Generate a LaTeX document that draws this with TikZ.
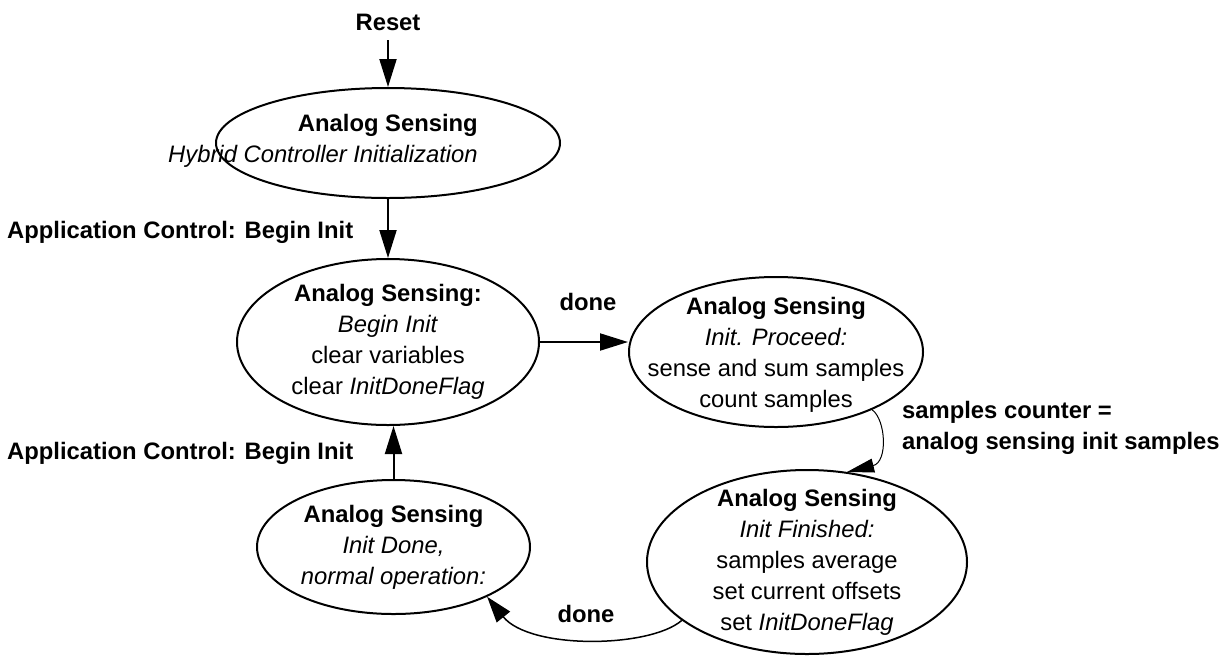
\documentclass[tikz,border=0pt]{standalone}
\usepackage{fontspec}
\setmainfont{Liberation Sans}
\usetikzlibrary{shapes.geometric,arrows.meta}
\begin{document}
\begin{tikzpicture}[x=1pt,y=-1pt,
  txt/.style={font=\fontsize{23.8}{31}\selectfont, align=center, inner sep=0pt},
  lbl/.style={font=\fontsize{23.8}{31}\selectfont\bfseries, inner sep=0pt},
  state/.style={ellipse, draw, line width=2pt, inner sep=0pt},
  arr/.style={line width=2pt, -{Triangle[length=28pt,width=17pt]}},
  thinarr/.style={line width=1pt, -{Triangle[length=27pt,width=14pt]}}]
\useasboundingbox (0,0) rectangle (1230,662);

% states (outlines)
\node[state, minimum width=344pt, minimum height=110pt] (s0) at (388,143) {};
\node[state, minimum width=302pt, minimum height=166pt] (s1) at (388,342) {};
\node[state, minimum width=294pt, minimum height=150pt] (s2) at (776,352) {};
\node[state, minimum width=320pt, minimum height=184pt] (s3) at (807,562) {};
\node[state, minimum width=273pt, minimum height=134pt] (s4) at (393.5,547) {};

% state texts
\node[txt, align=right] (s0t) at (323,141)
  {{\bfseries Analog Sensing}\\\textit{Hybrid Controller Initialization}};
\node[txt] (s1t) at (s1)
  {{\bfseries Analog Sensing:}\\\textit{Begin Init}\\clear variables\\clear \textit{InitDoneFlag}};
\node[txt] (s2t) at (776,355)
  {{\bfseries Analog Sensing}\\\textit{Init. Proceed:}\\sense and sum samples\\count samples};
\node[txt] (s3t) at (s3)
  {{\bfseries Analog Sensing}\\\textit{Init Finished:}\\samples average\\set current offsets\\set \textit{InitDoneFlag}};
\node[txt] (s4t) at (s4)
  {{\bfseries Analog Sensing}\\\textit{Init Done,}\\\textit{normal operation:}};

% labels
\node[lbl] (reset) at (388,22) {Reset};
\coordinate (rs) at (388,40);
\node[lbl, anchor=west] (l1) at (7,232) {Application Control: Begin Init};
\node[lbl, anchor=west] (l2) at (7,453) {Application Control: Begin Init};
\node[lbl] (d1) at (588,302) {done};
\node[lbl] (d2) at (586,614) {done};
\node[lbl, anchor=west, align=left] (sc) at (902,428) {samples counter =\\analog sensing init samples};

% connectors
\draw[arr] (rs) -- (s0.north);
\draw[arr] (s0.south) -- (s1.north);
\draw[arr] (s1.east) -- (s1.east -| s2.west);
\draw[thinarr] (s2.-31) .. controls (886,420) and (888,462) .. (s3.66);
\draw[line width=1.5pt, -{Triangle[length=26pt,width=17pt]}] (s3.205) .. controls (650,648) and (530,650) .. (s4.-28);
\draw[arr] (s4.north) -- (s4.north |- s1.south);
\end{tikzpicture}
\end{document}
